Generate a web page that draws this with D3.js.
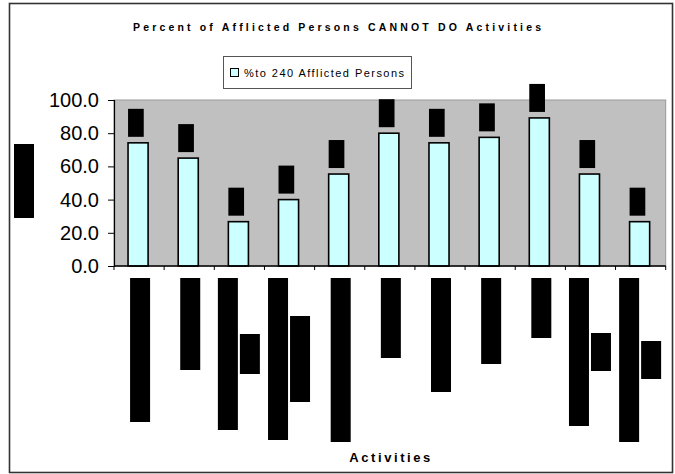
<!DOCTYPE html>
<html>
<head>
<meta charset="utf-8">
<script src="https://cdn.jsdelivr.net/npm/d3@7"></script>
<style>
  body { margin: 0; background: #fff; }
  text { font-family: Arial, "Liberation Sans", sans-serif; }
</style>
</head>
<body>
<div class="chart"></div>
<script>
// percent of the 240 afflicted persons who cannot do each activity
const activities = [1, 2, 3, 4, 5, 6, 7, 8, 9, 10, 11];
const percents = [74.2, 65.0, 26.7, 40.0, 55.4, 80.0, 74.2, 77.5, 89.2, 55.4, 26.7];
// the category names are blacked out in the picture: only the length (px) of each line shows
const labelLines = [[144], [92], [152, 40], [162, 86], [164], [80], [114], [86], [60], [148, 38], [164, 38]];
const yTicks = [0, 20, 40, 60, 80, 100];
const seriesName = "%to 240 Afflicted Persons";
const title = "Percent of Afflicted Persons CANNOT DO Activities";

const W = 675, H = 474;
const margin = {top: 100, left: 114, bottom: 208, right: 9.3};
const width = W - margin.left - margin.right;
const height = H - margin.top - margin.bottom;

const svg = d3.select(".chart").append("svg")
  .attr("width", W)
  .attr("height", H);

// chart area border
svg.append("rect")
  .attr("x", 9.5).attr("y", 3.5)
  .attr("width", 663).attr("height", 469)
  .attr("fill", "#fff")
  .attr("stroke", "#333")
  .attr("stroke-width", 1.6);

svg.append("text")
  .attr("x", 337).attr("y", 31)
  .attr("text-anchor", "middle")
  .attr("font-size", 10.5)
  .attr("font-weight", "bold")
  .attr("textLength", 408)
  .attr("lengthAdjust", "spacing")
  .text(title);

// legend
const leg = svg.append("g");
leg.append("rect")
  .attr("x", 223.5).attr("y", 56.5)
  .attr("width", 188).attr("height", 32)
  .attr("fill", "#fff")
  .attr("stroke", "#555");
leg.append("rect")
  .attr("x", 230.5).attr("y", 68.5)
  .attr("width", 8).attr("height", 8)
  .attr("fill", "#ccffff")
  .attr("stroke", "#000");
leg.append("text")
  .attr("x", 244).attr("y", 77)
  .attr("font-size", 11)
  .attr("textLength", 160)
  .attr("lengthAdjust", "spacing")
  .text(seriesName);

const g = svg.append("g")
  .attr("transform", "translate(" + margin.left + "," + margin.top + ")");

const xScale = d3.scaleBand()
  .domain(activities)
  .range([0, width])
  .paddingInner(0.6)
  .paddingOuter(0.3);

const band = d3.scaleBand()
  .domain(activities)
  .range([0, width]);

const yScale = d3.scaleLinear()
  .domain([0, 100])
  .range([height, 0]);

g.append("rect")
  .attr("width", width).attr("height", height)
  .attr("fill", "#c0c0c0")
  .attr("stroke", "#999")
  .attr("stroke-width", 1);

g.selectAll(".bar")
  .data(percents)
  .enter()
  .append("rect")
  .attr("class", "bar")
  .attr("x", (d, i) => xScale(activities[i]) - 1)
  .attr("y", d => yScale(d))
  .attr("width", xScale.bandwidth())
  .attr("height", d => height - yScale(d))
  .attr("fill", "#ccffff")
  .attr("stroke", "#000")
  .attr("stroke-width", 1.6);

// value labels (blacked out)
g.selectAll(".vlab")
  .data(percents)
  .enter()
  .append("rect")
  .attr("class", "vlab")
  .attr("x", (d, i) => xScale(activities[i]) - 1)
  .attr("y", d => yScale(d) - 34)
  .attr("width", 15.7)
  .attr("height", 28)
  .attr("fill", "#000");

// y axis
const yAxis = g.append("g")
  .call(d3.axisLeft(yScale).tickValues(yTicks).tickFormat(d3.format(".1f")).tickSize(6).tickPadding(9));
yAxis.select(".domain").attr("stroke", "#000").attr("stroke-width", 1.2);
yAxis.selectAll(".tick line").attr("stroke", "#000");
yAxis.selectAll("text")
  .attr("font-size", 20)
  .attr("font-family", "Arial, 'Liberation Sans', sans-serif")
  .attr("fill", "#000");

// x axis with ticks on the category boundaries
const xAxis = g.append("g").attr("transform", "translate(0," + height + ")");
xAxis.append("line")
  .attr("x1", 0).attr("x2", width)
  .attr("stroke", "#000").attr("stroke-width", 1.4);
xAxis.selectAll(".xt")
  .data(activities.concat([null]))
  .enter()
  .append("line")
  .attr("x1", (d, i) => i * band.bandwidth())
  .attr("x2", (d, i) => i * band.bandwidth())
  .attr("y1", 0).attr("y2", 4)
  .attr("stroke", "#000");

// category labels (blacked out, rotated text lines)
const labelTop = height + 12;
activities.forEach((a, i) => {
  const lines = labelLines[i];
  const longest = d3.max(lines);
  const cx = band(a) + band.bandwidth() / 2;
  const x0 = lines.length === 1 ? cx - 9 : cx - 21.5;
  lines.forEach((len, j) => {
    g.append("rect")
      .attr("x", x0 + j * 22)
      .attr("y", labelTop + (longest - len) / 2)
      .attr("width", 20)
      .attr("height", len)
      .attr("fill", "#000");
  });
});

// y axis title (blacked out)
svg.append("rect")
  .attr("x", 14).attr("y", 144)
  .attr("width", 20).attr("height", 74)
  .attr("fill", "#000");

svg.append("text")
  .attr("x", margin.left + width / 2).attr("y", 462)
  .attr("text-anchor", "middle")
  .attr("font-size", 13)
  .attr("font-weight", "bold")
  .attr("textLength", 81)
  .attr("lengthAdjust", "spacing")
  .text("Activities");
</script>
</body>
</html>
